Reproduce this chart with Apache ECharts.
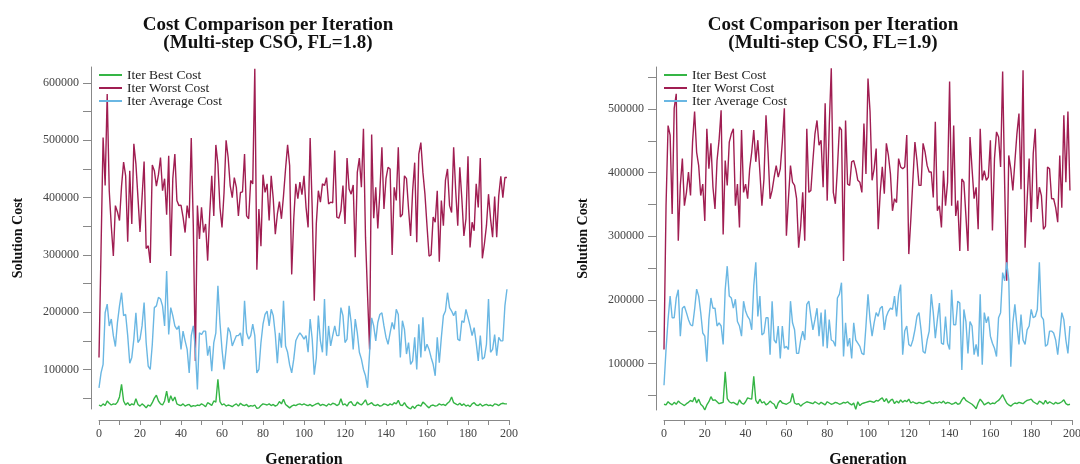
<!DOCTYPE html>
<html>
<head>
<meta charset="utf-8">
<title>Cost Comparison per Iteration</title>
<script src="https://cdn.jsdelivr.net/npm/echarts@6.0.0/dist/echarts.min.js"></script>
<style>
html, body { margin: 0; padding: 0; background: #fff; }
#chart { width: 1080px; height: 464px; }
</style>
</head>
<body>
<div id="chart"></div>
<script>
// generation index 0..199
const generations = Array.from({ length: 200 }, (_, i) => i)

// FL = 1.8 (left panel)
const worstFL18 = [
  121000, 310000, 505000, 421000, 581000, 412000, 350000, 298000, 386000, 375000,
  360000, 420000, 462000, 438000, 323000, 447000, 354000, 494000, 459000, 400000,
  340000, 400000, 463000, 311000, 316000, 286000, 457000, 447000, 420000, 440000,
  470000, 412000, 433000, 370000, 473000, 298000, 433000, 476000, 395000, 386000,
  387000, 366000, 339000, 386000, 364000, 504000, 351000, 115000, 386000, 328000,
  383000, 339000, 354000, 290000, 371000, 438000, 368000, 492000, 459000, 383000,
  348000, 409000, 500000, 470000, 421000, 400000, 435000, 418000, 368000, 409000,
  410000, 476000, 368000, 363000, 430000, 424000, 625000, 274000, 380000, 315000,
  440000, 409000, 424000, 360000, 438000, 398000, 336000, 371000, 393000, 363000,
  403000, 450000, 492000, 456000, 266000, 363000, 424000, 398000, 427000, 405000,
  438000, 383000, 348000, 504000, 381000, 220000, 354000, 412000, 392000, 424000,
  421000, 435000, 389000, 392000, 391000, 482000, 366000, 364000, 377000, 421000,
  354000, 469000, 415000, 406000, 422000, 296000, 444000, 469000, 418000, 520000,
  331000, 230000, 135000, 510000, 364000, 418000, 346000, 409000, 488000, 380000,
  433000, 453000, 450000, 300000, 418000, 395000, 488000, 366000, 371000, 438000,
  433000, 380000, 333000, 412000, 461000, 322000, 476000, 496000, 444000, 406000,
  351000, 298000, 300000, 366000, 357000, 412000, 288000, 395000, 351000, 430000,
  450000, 386000, 374000, 488000, 412000, 351000, 453000, 398000, 333000, 363000,
  472000, 313000, 357000, 342000, 424000, 383000, 469000, 294000, 319000, 351000,
  406000, 363000, 331000, 402000, 331000, 403000, 437000, 400000, 435000, 435000
]
const avgFL18 = [
  68000, 94000, 109000, 199000, 214000, 176000, 188000, 159000, 140000, 182000,
  211000, 234000, 194000, 196000, 159000, 111000, 121000, 153000, 199000, 147000,
  153000, 176000, 217000, 147000, 106000, 100000, 144000, 208000, 211000, 226000,
  223000, 211000, 176000, 272000, 161000, 208000, 194000, 176000, 170000, 176000,
  135000, 167000, 150000, 135000, 94000, 159000, 176000, 135000, 65000, 164000,
  161000, 167000, 167000, 124000, 141000, 97000, 147000, 164000, 246000, 182000,
  135000, 100000, 135000, 173000, 165000, 141000, 150000, 159000, 159000, 164000,
  141000, 220000, 164000, 153000, 159000, 179000, 159000, 94000, 100000, 147000,
  179000, 196000, 202000, 176000, 205000, 194000, 161000, 111000, 164000, 138000,
  220000, 141000, 130000, 108000, 94000, 118000, 150000, 158000, 164000, 159000,
  153000, 159000, 130000, 188000, 153000, 91000, 120000, 194000, 150000, 130000,
  223000, 124000, 176000, 141000, 159000, 176000, 159000, 159000, 208000, 194000,
  147000, 153000, 211000, 182000, 135000, 188000, 164000, 130000, 118000, 100000,
  89000, 68000, 130000, 190000, 176000, 150000, 182000, 196000, 199000, 176000,
  156000, 144000, 164000, 182000, 170000, 205000, 196000, 121000, 185000, 170000,
  127000, 147000, 109000, 115000, 156000, 100000, 179000, 121000, 191000, 132000,
  144000, 135000, 121000, 109000, 89000, 156000, 112000, 156000, 194000, 202000,
  234000, 208000, 202000, 194000, 202000, 153000, 150000, 185000, 182000, 205000,
  191000, 176000, 159000, 173000, 147000, 115000, 159000, 118000, 121000, 144000,
  223000, 130000, 135000, 161000, 124000, 156000, 150000, 150000, 211000, 240000
]
const bestFL18 = [
  38000, 36000, 40000, 37000, 45000, 41000, 38000, 40000, 39000, 43000,
  52000, 74000, 45000, 38000, 42000, 37000, 40000, 38000, 49000, 39000,
  36000, 40000, 37000, 33000, 38000, 36000, 42000, 50000, 55000, 45000,
  40000, 38000, 45000, 62000, 42000, 54000, 45000, 52000, 40000, 38000,
  37000, 40000, 36000, 38000, 39000, 35000, 37000, 36000, 38000, 37000,
  40000, 38000, 35000, 42000, 40000, 37000, 45000, 43000, 83000, 44000,
  38000, 40000, 36000, 38000, 37000, 35000, 38000, 40000, 36000, 41000,
  38000, 37000, 39000, 35000, 37000, 36000, 38000, 32000, 33000, 37000,
  40000, 39000, 38000, 40000, 37000, 39000, 36000, 38000, 44000, 40000,
  48000, 39000, 36000, 33000, 36000, 38000, 37000, 39000, 40000, 38000,
  40000, 38000, 37000, 39000, 36000, 38000, 40000, 41000, 37000, 39000,
  38000, 36000, 40000, 38000, 41000, 40000, 37000, 39000, 49000, 38000,
  40000, 36000, 42000, 44000, 38000, 37000, 43000, 40000, 38000, 42000,
  47000, 38000, 40000, 42000, 38000, 37000, 39000, 36000, 37000, 40000,
  39000, 37000, 40000, 38000, 42000, 40000, 46000, 38000, 37000, 42000,
  36000, 33000, 31000, 36000, 32000, 37000, 38000, 36000, 43000, 40000,
  36000, 33000, 37000, 38000, 36000, 37000, 40000, 38000, 39000, 37000,
  41000, 44000, 52000, 42000, 40000, 38000, 41000, 37000, 40000, 36000,
  38000, 35000, 40000, 42000, 38000, 37000, 40000, 36000, 38000, 39000,
  37000, 38000, 36000, 40000, 39000, 37000, 40000, 41000, 40000, 40000
]

// FL = 1.9 (right panel)
const worstFL19 = [
  122000, 348000, 474000, 459000, 335000, 501000, 524000, 293000, 380000, 422000,
  348000, 369000, 401000, 364000, 448000, 496000, 432000, 411000, 364000, 382000,
  324000, 469000, 406000, 446000, 377000, 343000, 419000, 451000, 498000, 303000,
  419000, 380000, 448000, 461000, 469000, 348000, 382000, 314000, 467000, 369000,
  382000, 359000, 406000, 432000, 467000, 417000, 451000, 401000, 348000, 390000,
  490000, 432000, 359000, 372000, 393000, 411000, 393000, 406000, 448000, 501000,
  301000, 359000, 411000, 385000, 380000, 359000, 282000,
  316000, 369000, 293000, 469000, 369000, 372000, 419000, 461000, 482000, 443000,
  451000, 377000, 509000, 356000, 474000, 564000, 369000, 351000, 406000, 472000,
  467000, 261000, 482000, 382000, 380000, 417000, 419000, 406000, 388000, 385000,
  369000, 477000, 398000, 548000, 496000, 388000, 406000, 438000, 311000, 369000,
  409000, 367000, 446000, 427000, 398000, 340000, 359000, 353000, 422000, 409000,
  406000, 409000, 459000, 272000, 327000, 388000, 448000, 419000, 380000, 380000,
  446000, 432000, 411000, 401000,
  401000, 361000, 480000, 340000, 348000, 314000, 403000, 348000, 385000, 543000,
  348000, 474000, 332000, 356000, 277000, 390000, 385000, 332000, 277000, 456000,
  406000, 359000, 377000, 311000, 469000, 388000, 403000, 388000, 393000, 451000,
  309000, 422000, 464000, 456000, 409000, 559000, 380000, 230000, 427000, 406000,
  372000, 417000, 461000, 493000, 374000, 561000, 282000, 356000, 422000, 322000,
  430000, 469000, 343000, 377000, 364000, 311000, 316000, 409000, 406000, 359000,
  359000, 345000, 322000, 427000, 345000, 490000, 385000, 496000, 372000
]
const avgFL19 = [
  66000, 122000, 169000, 206000, 172000, 172000, 203000, 216000, 143000, 187000,
  190000, 180000, 169000, 161000, 159000, 185000, 217000, 206000, 180000, 148000,
  143000, 103000, 169000, 203000, 187000, 187000, 159000, 164000, 159000, 130000,
  216000, 253000, 206000, 203000, 187000, 201000, 166000, 159000, 143000, 198000,
  182000, 174000, 169000, 153000, 222000, 259000, 174000, 206000, 145000, 148000,
  172000, 172000, 114000, 198000, 137000, 132000, 159000, 108000, 159000, 124000,
  127000, 122000, 198000, 164000, 153000, 116000, 116000,
  137000, 151000, 137000, 193000, 198000, 174000, 153000, 169000, 187000, 143000,
  180000, 127000, 185000, 124000, 169000, 137000, 135000, 127000, 203000, 209000,
  227000, 111000, 164000, 127000, 140000, 108000, 164000, 137000, 132000, 127000,
  116000, 114000, 159000, 209000, 169000, 143000, 164000, 180000, 174000, 187000,
  190000, 153000, 174000, 182000, 187000, 185000, 206000, 174000, 209000, 224000,
  114000, 151000, 159000, 130000, 127000, 137000, 153000, 174000, 180000, 153000,
  119000, 116000, 137000, 151000,
  209000, 180000, 140000, 169000, 195000, 132000, 130000, 174000, 132000, 122000,
  216000, 161000, 161000, 198000, 195000, 90000, 185000, 166000, 116000, 166000,
  159000, 114000, 130000, 111000, 209000, 98000, 180000, 164000, 174000, 143000,
  132000, 124000, 111000, 172000, 180000, 243000, 230000, 259000, 232000, 95000,
  164000, 193000, 159000, 130000, 177000, 137000, 130000, 153000, 159000, 185000,
  172000, 174000, 185000, 259000, 174000, 169000, 127000, 130000, 151000, 151000,
  148000, 137000, 114000, 145000, 180000, 169000, 137000, 116000, 159000
]
const bestFL19 = [
  36000, 35000, 40000, 37000, 35000, 39000, 36000, 41000, 38000, 36000,
  34000, 37000, 39000, 42000, 40000, 47000, 38000, 44000, 36000, 33000,
  27000, 35000, 40000, 48000, 42000, 43000, 40000, 37000, 38000, 39000,
  87000, 45000, 40000, 38000, 39000, 37000, 35000, 43000, 38000, 36000,
  40000, 46000, 45000, 44000, 80000, 42000, 37000, 44000, 38000, 40000,
  35000, 37000, 41000, 38000, 36000, 29000, 38000, 42000, 38000, 37000,
  36000, 38000, 40000, 53000, 38000, 36000, 37000, 33000, 36000, 38000,
  40000, 39000, 38000, 37000, 40000, 38000, 36000, 39000, 37000, 35000,
  40000, 38000, 36000, 37000, 39000, 38000, 36000, 37000, 39000, 38000,
  40000, 37000, 35000, 38000, 28000, 40000, 34000, 37000, 38000, 39000,
  40000, 41000, 40000, 39000, 42000, 41000, 44000, 46000, 40000, 45000,
  38000, 42000, 44000, 37000, 41000, 38000, 43000, 39000, 42000, 40000,
  44000, 38000, 40000, 38000, 37000, 39000, 38000, 37000, 39000, 40000,
  41000, 38000, 37000, 39000, 38000, 40000, 38000, 41000, 37000, 39000,
  38000, 36000, 37000, 39000, 36000, 37000, 43000, 47000, 42000, 40000,
  38000, 36000, 33000, 29000, 38000, 44000, 40000, 35000, 37000, 39000,
  36000, 38000, 37000, 40000, 42000, 46000, 51000, 44000, 38000, 35000,
  33000, 36000, 38000, 37000, 39000, 38000, 37000, 40000, 42000, 43000,
  44000, 40000, 38000, 36000, 41000, 39000, 36000, 42000, 37000, 40000,
  38000, 36000, 39000, 37000, 38000, 40000, 43000, 37000, 35000, 36000
]

// axis ticks
const xTicks = [0, 10, 20, 30, 40, 50, 60, 70, 80, 90, 100, 110, 120, 130, 140, 150, 160, 170, 180, 190, 200]
const xLabels = [0, 20, 40, 60, 80, 100, 120, 140, 160, 180, 200]
const yTicksFL18 = [50000, 100000, 150000, 200000, 250000, 300000, 350000, 400000, 450000, 500000, 550000, 600000]
const yLabelsFL18 = [100000, 200000, 300000, 400000, 500000, 600000]
const yTicksFL19 = [50000, 100000, 150000, 200000, 250000, 300000, 350000, 400000, 450000, 500000, 550000]
const yLabelsFL19 = [100000, 200000, 300000, 400000, 500000]

const FONT = '"Liberation Serif", "Times New Roman", serif'
const COLORS = { best: '#35b545', worst: '#a01e52', avg: '#6ab7e3' }
const NAMES = { best: 'Iter Best Cost', worst: 'Iter Worst Cost', avg: 'Iter Average Cost' }

function lineSeries(name, values, color, idx) {
	return {
		name: name,
		type: 'line',
		xAxisIndex: idx,
		yAxisIndex: idx,
		data: values.map((v, i) => [generations[i], v]),
		symbol: 'none',
		showSymbol: false,
		smooth: false,
		lineStyle: { color: color, width: 1.4 },
		itemStyle: { color: color },
		emphasis: { disabled: true }
	}
}

function xAxis(idx, offset) {
	return {
		gridIndex: idx,
		type: 'value',
		min: 0,
		max: 200,
		offset: offset,
		axisLine: { show: true, onZero: false, lineStyle: { color: '#888', width: 1 } },
		axisTick: { show: true, length: 5, customValues: xTicks, lineStyle: { color: '#888' } },
		axisLabel: { customValues: xLabels, margin: 8, fontFamily: FONT, fontSize: 12, color: '#444' },
		splitLine: { show: false },
		name: 'Generation',
		nameLocation: 'middle',
		nameGap: 32,
		nameTextStyle: { fontFamily: FONT, fontWeight: 'bold', fontSize: 16, color: '#111' }
	}
}

function yAxis(idx, min, max, ticks, labels) {
	return {
		gridIndex: idx,
		type: 'value',
		min: min,
		max: max,
		offset: 8,
		axisLine: { show: true, onZero: false, lineStyle: { color: '#888', width: 1 } },
		axisTick: { show: true, length: 8, customValues: ticks, lineStyle: { color: '#888' } },
		axisLabel: {
			customValues: labels, margin: 12, fontFamily: FONT, fontSize: 12, color: '#444',
			formatter: v => String(v)
		},
		splitLine: { show: false },
		name: 'Solution Cost',
		nameLocation: 'middle',
		nameGap: 66,
		nameRotate: 90,
		nameTextStyle: { fontFamily: FONT, fontWeight: 'bold', fontSize: 14, color: '#111' }
	}
}

function legend(left) {
	return {
		orient: 'vertical',
		left: left,
		top: 63,
		itemWidth: 23,
		itemHeight: 2,
		itemGap: -1,
		icon: 'rect',
		data: [NAMES.best, NAMES.worst, NAMES.avg],
		textStyle: { fontFamily: FONT, fontSize: 13.5, color: '#222', lineHeight: 13 }
	}
}

const chart = echarts.init(document.getElementById('chart'), null, { renderer: 'canvas' })

const option = {
	animation: false,
	backgroundColor: '#fff',
	title: [
		{
			text: 'Cost Comparison per Iteration\n(Multi-step CSO, FL=1.8)',
			left: 263, top: 11, textAlign: 'center',
			textStyle: { fontFamily: FONT, fontWeight: 'bold', fontSize: 19, lineHeight: 18, color: '#111' }
		},
		{
			text: 'Cost Comparison per Iteration\n(Multi-step CSO, FL=1.9)',
			left: 828, top: 11, textAlign: 'center',
			textStyle: { fontFamily: FONT, fontWeight: 'bold', fontSize: 19, lineHeight: 18, color: '#111' }
		}
	],
	legend: [legend(94), legend(659)],
	grid: [
		{ left: 99, top: 67, width: 410, height: 342, outerBoundsMode: 'none' },
		{ left: 664, top: 67, width: 408, height: 343, outerBoundsMode: 'none' }
	],
	xAxis: [xAxis(0, 11), xAxis(1, 10)],
	yAxis: [
		yAxis(0, 31000, 628000, yTicksFL18, yLabelsFL18),
		yAxis(1, 27000, 566000, yTicksFL19, yLabelsFL19)
	],
	series: [
		lineSeries(NAMES.best, bestFL18, COLORS.best, 0),
		lineSeries(NAMES.worst, worstFL18, COLORS.worst, 0),
		lineSeries(NAMES.avg, avgFL18, COLORS.avg, 0),
		lineSeries(NAMES.best, bestFL19, COLORS.best, 1),
		lineSeries(NAMES.worst, worstFL19, COLORS.worst, 1),
		lineSeries(NAMES.avg, avgFL19, COLORS.avg, 1)
	]
}

chart.setOption(option)
</script>
</body>
</html>
